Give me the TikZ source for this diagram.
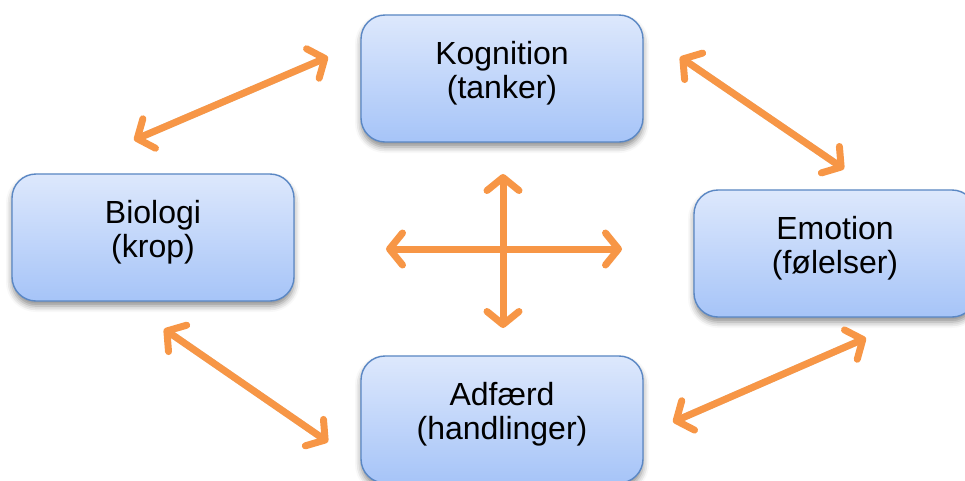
\documentclass[tikz,border=0pt]{standalone}
\usepackage{fontspec}
\setmainfont{Liberation Sans}
\usetikzlibrary{arrows.meta,shadows.blur}

\definecolor{boxtop}{HTML}{DDE8FC}
\definecolor{boxbottom}{HTML}{A6C4F8}
\definecolor{boxline}{HTML}{5A87C4}
\definecolor{linkorange}{HTML}{F79646}

\tikzset{
  topic/.style={
    draw=boxline, line width=1.4pt, rounded corners=24pt,
    top color=boxtop, bottom color=boxbottom,
    minimum width=282pt, minimum height=127pt,
    align=center, font=\fontsize{32}{34}\selectfont, text=black,
    inner sep=0pt, text depth=18pt,
    blur shadow={shadow xshift=0pt, shadow yshift=-5pt,
                 shadow blur radius=6pt, shadow opacity=45}
  },
  link/.style={
    draw=linkorange, line width=7pt, line cap=round,
    {Straight Barb[length=13pt,width=32pt,round]}-{Straight Barb[length=13pt,width=32pt,round]}
  },
  linkshade/.style={
    draw=black, opacity=0.12, line width=7pt, line cap=round,
    shorten <=6pt, shorten >=6pt
  }
}

\begin{document}
\begin{tikzpicture}[x=1pt, y=-1pt]
  \useasboundingbox (0,0) rectangle (965,480);
  \clip (0,0) rectangle (965,480);

  % topic boxes
  \node[topic] (kog) at (502,78.5)  {Kognition\\(tanker)};
  \node[topic] (bio) at (153,237.5) {Biologi\\(krop)};
  \node[topic] (emo) at (835,253.5) {Emotion\\(følelser)};
  \node[topic] (adf) at (502,419.5) {Adfærd\\(handlinger)};

  % free ends of the double arrows
  \coordinate (tl1) at (134,140); \coordinate (tl2) at (328,57);
  \coordinate (tr1) at (680,57);  \coordinate (tr2) at (844,169);
  \coordinate (bl1) at (164,329); \coordinate (bl2) at (328,442);
  \coordinate (br1) at (673,422); \coordinate (br2) at (866,338);
  \coordinate (cu) at (503,174);  \coordinate (cd) at (503,328);
  \coordinate (cl) at (386,249);  \coordinate (cr) at (622,249);

  % faint shading under the arrows
  \begin{scope}[shift={(2,4)}]
    \foreach \a/\b in {tl1/tl2, tr1/tr2, bl1/bl2, br1/br2, cu/cd, cl/cr}
      \draw[linkshade] (\a) -- (\b);
  \end{scope}

  % double arrows
  \foreach \a/\b in {tl1/tl2, tr1/tr2, bl1/bl2, br1/br2, cl/cr, cu/cd}
    \draw[link] (\a) -- (\b);
\end{tikzpicture}
\end{document}
